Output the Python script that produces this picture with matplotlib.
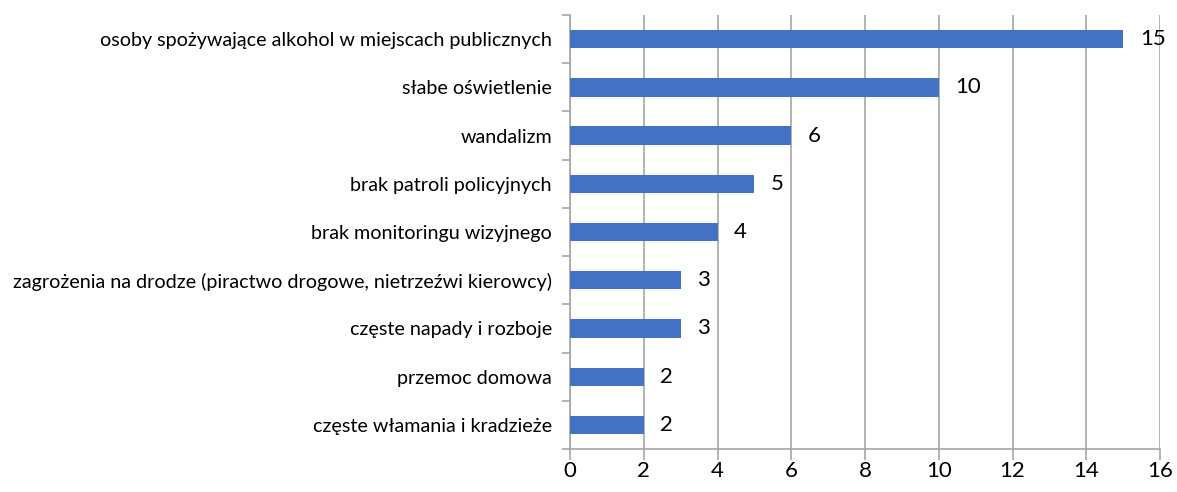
import matplotlib
matplotlib.use("Agg")
import matplotlib.pyplot as plt
import numpy as np

# Categories listed bottom to top
categories = [
    "częste włamania i kradzieże",
    "przemoc domowa",
    "częste napady i rozboje",
    "zagrożenia na drodze (piractwo drogowe, nietrzeźwi kierowcy)",
    "brak monitoringu wizyjnego",
    "brak patroli policyjnych",
    "wandalizm",
    "słabe oświetlenie",
    "osoby spożywające alkohol w miejscach publicznych",
]
values = [2, 2, 3, 3, 4, 5, 6, 10, 15]
x_ticks = [0, 2, 4, 6, 8, 10, 12, 14, 16]

plt.rcParams["font.family"] = ["Lato", "DejaVu Sans"]

fig = plt.figure(figsize=(11.77, 4.92), dpi=100)
ax = fig.add_axes([0.4843, 0.0874, 0.5013, 0.8821])

bar_color = "#4472C4"
grid_color = "#A6A6A6"

y = np.arange(len(categories))
ax.barh(y, values, height=0.38, color=bar_color, zorder=3)

for yi, v in zip(y, values):
    ax.annotate(str(v), (v, yi), xytext=(12, 0), textcoords="offset points",
                ha="left", va="center", fontsize=16, color="black")

ax.set_xlim(0, 16)
ax.set_ylim(-0.5, len(categories) - 0.5)
ax.set_xticks(x_ticks)
ax.set_xticklabels([str(t) for t in x_ticks], fontsize=16)

# category labels centred in each band, ticks at the band boundaries
ax.set_yticks(np.arange(-0.5, len(categories), 1.0))
ax.set_yticklabels([])
ax.set_yticks(y, minor=True)
ax.set_yticklabels(categories, minor=True, fontsize=14.2)
ax.tick_params(axis="y", which="minor", length=0, pad=13)
ax.tick_params(axis="y", which="major", length=6, color=grid_color, width=1.2)
ax.tick_params(axis="x", length=8, color=grid_color, width=1.2, pad=1)

ax.grid(axis="x", color=grid_color, linewidth=1.2, zorder=0)
for side in ["top", "right"]:
    ax.spines[side].set_visible(False)
for side in ["left", "bottom"]:
    ax.spines[side].set_color(grid_color)
    ax.spines[side].set_linewidth(1.2)

fig.savefig("out.png", dpi=100)
